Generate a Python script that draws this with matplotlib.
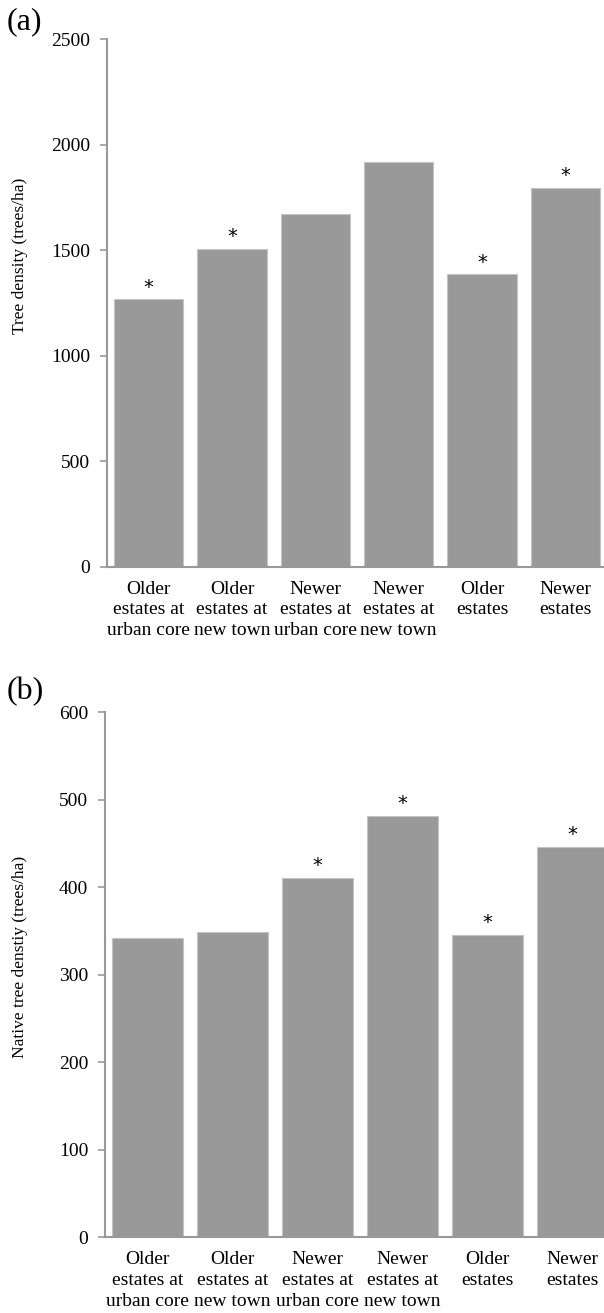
import matplotlib
matplotlib.use("Agg")
import matplotlib.pyplot as plt

plt.rcParams['font.family'] = ['Liberation Serif', 'DejaVu Serif']

categories = ["Older\nestates at\nurban core", "Older\nestates at\nnew town",
              "Newer\nestates at\nurban core", "Newer\nestates at\nnew town",
              "Older\nestates", "Newer\nestates"]

tree_density = [1266, 1505, 1672, 1919, 1385, 1795]
tree_sig = [True, True, False, False, True, True]

native_density = [342, 349, 411, 482, 346, 446]
native_sig = [False, False, True, True, True, True]

BAR = '#999999'
AXIS = '#999999'


def draw_panel(ax, values, sig, ymax, step, ylabel, label_pos, tag, tag_pos, width):
    x = range(len(values))
    ax.bar(x, values, width=width, color=BAR, edgecolor='#c4c4c4', linewidth=0.8)
    for xi, v, s in zip(x, values, sig):
        if s:
            ax.annotate('*', (xi, v), xytext=(0, 2), textcoords='offset points',
                        ha='center', va='bottom', fontsize=14, family='DejaVu Sans')
    ax.set_xlim(-0.5, len(values) - 0.5)
    ax.set_ylim(0, ymax)
    ax.set_yticks(range(0, ymax + 1, step))
    ax.set_xticks(list(x))
    ax.set_xticklabels(categories, fontsize=14, linespacing=1.3)
    ax.tick_params(axis='y', length=5, width=1.2, color=AXIS, labelsize=14, pad=7)
    ax.tick_params(axis='x', length=0, pad=10)
    for side in ['top', 'right']:
        ax.spines[side].set_visible(False)
    for side in ['left', 'bottom']:
        ax.spines[side].set_color(AXIS)
        ax.spines[side].set_linewidth(1.5)
    fig.text(label_pos[0], label_pos[1], ylabel, rotation=90, ha='center', va='center',
             fontsize=12.5)
    fig.text(tag_pos[0], tag_pos[1], tag, ha='left', va='center', fontsize=23)


W, H = 604, 1313
fig = plt.figure(figsize=(W / 100, H / 100), dpi=100)

ax1 = fig.add_axes([107 / W, 1 - 566.7 / H, 500 / W, 527.7 / H])
draw_panel(ax1, tree_density, tree_sig, 2500, 500, "Tree density (trees/ha)",
           (20 / W, 1 - 256 / H), "(a)", (7 / W, 1 - 22 / H), 0.83)

ax2 = fig.add_axes([105 / W, 1 - 1237.3 / H, 510 / W, 525 / H])
draw_panel(ax2, native_density, native_sig, 600, 100, "Native tree denstiy (trees/ha)",
           (20 / W, 1 - 957 / H), "(b)", (7 / W, 1 - 692 / H), 0.83)

fig.savefig("out.png", dpi=100)
